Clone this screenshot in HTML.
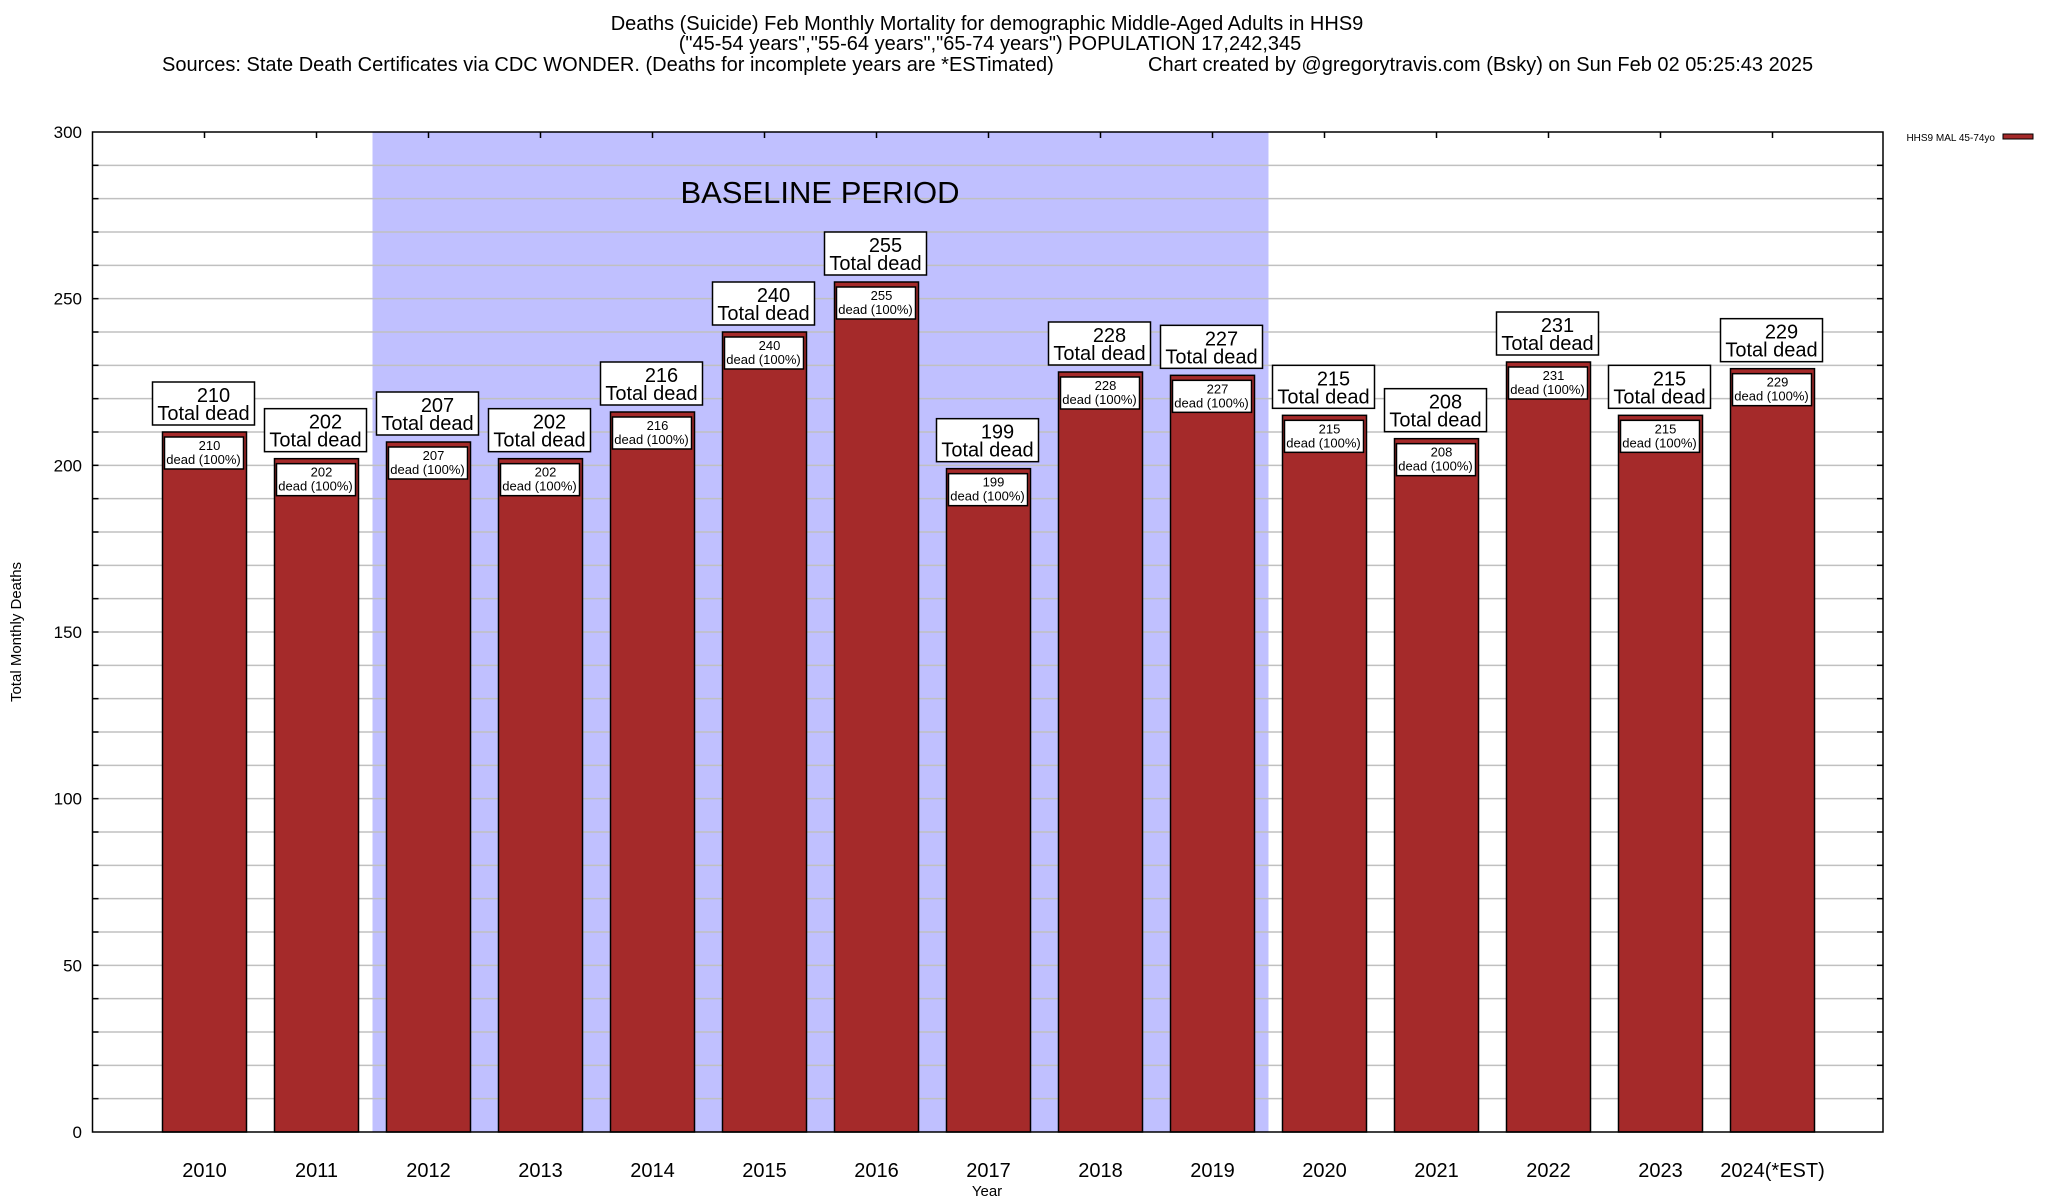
<!DOCTYPE html>
<html><head><meta charset="utf-8"><style>
body{margin:0;background:#fff}
svg{display:block;font-family:"Liberation Sans",Arial,sans-serif}
</style></head><body>
<svg id="chart" width="2048" height="1200" viewBox="0 0 2048 1200">
<g font-size="20" fill="#000">
<text x="987" y="30" text-anchor="middle">Deaths (Suicide) Feb Monthly Mortality for demographic Middle-Aged Adults in HHS9</text>
<text x="990" y="50" text-anchor="middle">("45-54 years","55-64 years","65-74 years") POPULATION 17,242,345</text>
<text x="162" y="71">Sources: State Death Certificates via CDC WONDER. (Deaths for incomplete years are *ESTimated)</text>
<text x="1148" y="71">Chart created by @gregorytravis.com (Bsky) on Sun Feb 02 05:25:43 2025</text>
</g>
<g id="plot"></g>
</svg>
<script>
const categories=["2010","2011","2012","2013","2014","2015","2016","2017","2018","2019","2020","2021","2022","2023","2024(*EST)"];
const deaths=[210,202,207,202,216,240,255,199,228,227,215,208,231,215,229];
const yTicks=[0,50,100,150,200,250,300];
const baselineStart=2; const baselineEnd=9;
const L=92.5,R=1883,T=132,B=1132,slot=112,yMax=300;
const y=v=>B-(v/yMax)*(B-T);
const xc=i=>L+slot*(i+1);
const NS="http://www.w3.org/2000/svg";
const g=document.getElementById('plot');
function el(tag,attrs,parent){const e=document.createElementNS(NS,tag);for(const k in attrs)e.setAttribute(k,attrs[k]);(parent||g).appendChild(e);return e;}
const sh=el('rect',{x:xc(baselineStart)-slot/2,y:T,width:(baselineEnd-baselineStart+1)*slot,height:B-T,fill:'#c0c0ff'});


for(let v=10;v<yMax;v+=10){
 const ln=el('line',{x1:L,x2:R,y1:y(v),y2:y(v),stroke:'#c0c0c0','stroke-width':1.5});
 
 
 el('line',{x1:L,x2:L+6,y1:y(v),y2:y(v),stroke:'#000','stroke-width':1.5});
 el('line',{x1:R-6,x2:R,y1:y(v),y2:y(v),stroke:'#000','stroke-width':1.5});
}
const bl=el('text',{x:820,y:203,'font-size':31,'text-anchor':'middle'});bl.textContent='BASELINE PERIOD';


yTicks.forEach(v=>{const t=el('text',{x:82,y:y(v)+6,'font-size':17,'text-anchor':'end'});t.textContent=v;
 
 });
const bw=84;
categories.forEach((c,i)=>{
 const v=deaths[i],cx=xc(i),top=y(v);
 const b=el('rect',{x:cx-bw/2,y:top,width:bw,height:B-top,fill:'#a52a2a',stroke:'#000','stroke-width':1.5});
 
 
 const ib=el('rect',{x:cx-bw/2+2,y:top+5,width:bw-5,height:32,fill:'#fff',stroke:'#000','stroke-width':1.5});
 
 
 const t1=el('text',{x:cx+5,y:top+18,'font-size':13,'text-anchor':'middle'});t1.textContent=v;
 
 
 const t2=el('text',{x:cx-1,y:top+32,'font-size':13,'text-anchor':'middle'});t2.textContent='dead (100%)';
 
 
 const bx=el('rect',{x:cx-52,y:top-50,width:102,height:43,fill:'#fff',stroke:'#000','stroke-width':1.5});
 
 
 const a=el('text',{x:cx+9,y:top-30,'font-size':20,'text-anchor':'middle'});a.textContent=v;
 
 
 const d=el('text',{x:cx-1,y:top-12,'font-size':20,'text-anchor':'middle'});d.textContent='Total dead';
 
 
 const xl=el('text',{x:cx,y:1177,'font-size':20,'text-anchor':'middle'});xl.textContent=c;
 
 
 el('line',{x1:cx,x2:cx,y1:T,y2:T+6,stroke:'#000','stroke-width':1.5});
});
const fr=el('rect',{x:L,y:T,width:R-L,height:B-T,fill:'none',stroke:'#000','stroke-width':1.5});


const yt=el('text',{x:0,y:0,'font-size':15,'text-anchor':'middle',transform:'translate(21,632) rotate(-90)'});yt.textContent='Total Monthly Deaths';


const xt=el('text',{x:987,y:1196,'font-size':15,'text-anchor':'middle'});xt.textContent='Year';


const lg=el('text',{x:1995,y:141,'font-size':10,'text-anchor':'end'});lg.textContent='HHS9 MAL 45-74yo';


const ls=el('rect',{x:2003,y:134,width:30,height:5,fill:'#a52a2a',stroke:'#000','stroke-width':1});


</script>
</body></html>
